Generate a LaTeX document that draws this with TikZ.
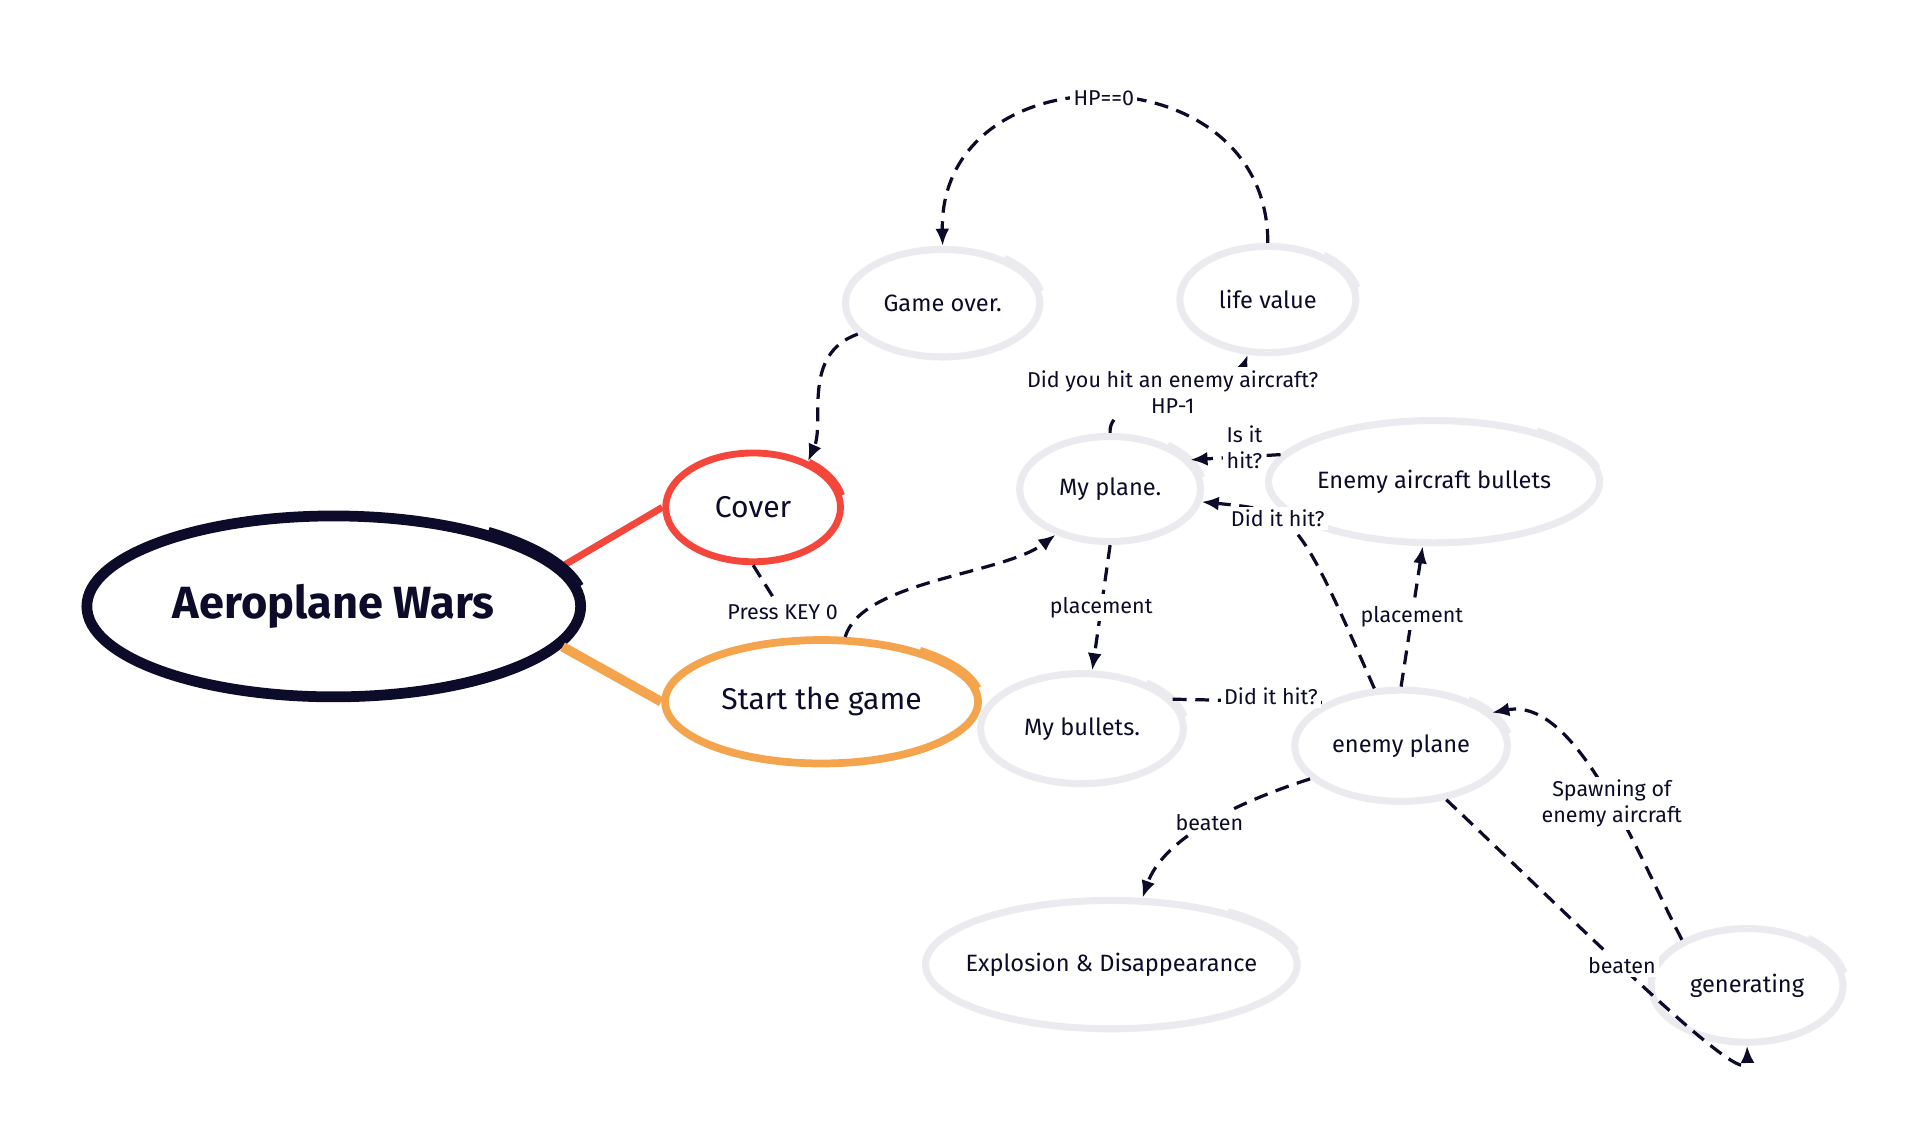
\documentclass[tikz,border=0pt]{standalone}
\usepackage{fontspec}
\setmainfont{Fira Sans}
\usepackage{tikz}
\usetikzlibrary{shapes.geometric,arrows.meta,positioning}
\usepackage{xcolor}
\definecolor{inknavy}{RGB}{12,12,42}
\definecolor{coverred}{RGB}{245,70,60}
\definecolor{startorange}{RGB}{245,164,78}
\definecolor{bubblegrey}{RGB}{235,234,238}

\tikzset{
  bubble/.style={ellipse, draw=bubblegrey, line width=3.3pt, inner sep=0pt, text=inknavy, font=\fontsize{11}{13}\selectfont},
  link/.style={draw=inknavy, line width=1.5pt, dash pattern=on 6.5pt off 4pt},
  linkto/.style={link, -{Latex[length=8pt,width=6.5pt]}},
  lbl/.style={fill=white, inner sep=1.5pt, text=inknavy, align=center, font=\fontsize{10}{12}\selectfont}
}

\begin{document}
\begin{tikzpicture}[x=0.02cm,y=0.02cm]
\useasboundingbox (0,0) rectangle (1568,-928);

% Central topic
\node[ellipse, draw=inknavy, line width=5pt, inner sep=0pt, minimum width=8.08cm, minimum height=2.96cm, text=inknavy, font=\fontsize{21}{25}\selectfont\bfseries] (wars) at (273,-496) {Aeroplane Wars};

% Main branches
\node[ellipse, draw=coverred, line width=3.2pt, inner sep=0pt, minimum width=2.86cm, minimum height=1.78cm, text=inknavy, font=\fontsize{14}{16}\selectfont] (cover) at (616,-415) {Cover};
\node[ellipse, draw=startorange, line width=3.6pt, inner sep=0pt, minimum width=5.12cm, minimum height=2.02cm, text=inknavy, font=\fontsize{14}{16}\selectfont] (start) at (672,-574) {Start the game};

\draw[coverred, line width=3.2pt] (wars.10) -- (cover.west);
\draw[startorange, line width=4.5pt] (wars.-10) -- (start.west);

% Game states
\node[bubble, minimum width=3.18cm, minimum height=1.76cm] (over) at (771,-248) {Game over.};
\node[bubble, minimum width=2.88cm, minimum height=1.74cm] (life) at (1037,-245) {life value};
\node[bubble, minimum width=2.96cm, minimum height=1.72cm] (myplane) at (908,-400) {My plane.};
\node[bubble, minimum width=5.36cm, minimum height=2.0cm] (ebullets) at (1173,-394) {Enemy aircraft bullets};
\node[bubble, minimum width=3.32cm, minimum height=1.8cm] (mybullets) at (885,-596) {My bullets.};
\node[bubble, minimum width=3.48cm, minimum height=1.82cm] (enemy) at (1146,-610) {enemy plane};
\node[bubble, inner xsep=-0.25cm, minimum width=6.08cm, minimum height=2.1cm] (boom) at (909,-789) {Explosion \& Disappearance};
\node[bubble, minimum width=3.14cm, minimum height=1.86cm] (gen) at (1429,-806) {generating};

% Brush overlap at the top right of each bubble
\foreach \n/\a/\b/\c/\w in {wars/4.1/1.54/inknavy/5pt, cover/1.48/0.94/coverred/3.2pt, start/2.61/1.06/startorange/3.6pt,
    over/1.64/0.93/bubblegrey/3.3pt, life/1.49/0.92/bubblegrey/3.3pt, myplane/1.53/0.91/bubblegrey/3.3pt,
    ebullets/2.73/1.05/bubblegrey/3.3pt, mybullets/1.71/0.95/bubblegrey/3.3pt, enemy/1.79/0.96/bubblegrey/3.3pt,
    boom/3.09/1.1/bubblegrey/3.3pt, gen/1.62/0.98/bubblegrey/3.3pt}
  \draw[\c, line width=\w] (\n.center) ++(52:\a cm and \b cm) arc[start angle=52, end angle=12, x radius=\a cm, y radius=\b cm];

% Flow
\draw[linkto] (life.north) .. controls (1037,-40) and (768,-40) .. (over.north) node[lbl, pos=0.5] {HP==0};
\draw[linkto] (over.200) .. controls (655,-290) and (675,-345) .. (cover.40);
\draw[link, shorten >=0.45cm] (cover.south) -- (start.110) node[lbl, pos=0.66] {Press KEY 0};
\draw[linkto] (start.70) .. controls (705,-475) and (820,-470) .. (myplane.220);
\draw[linkto] (myplane.north) .. controls (905,-320) and (1010,-320) .. (life.250) node[lbl, pos=0.5] {Did you hit an enemy aircraft?\\HP-1};
\draw[linkto] (ebullets.170) -- (myplane.20) node[lbl, pos=0.4, yshift=0.15cm] {Is it\\hit?};
\draw[linkto] (enemy.115) .. controls (1060,-418) .. (myplane.352) node[lbl, pos=0.62] {Did it hit?};
\draw[linkto] (myplane.south) -- (mybullets.80) node[lbl, pos=0.5] {placement};
\draw[link] (mybullets.18) -- (enemy.150) node[lbl, pos=0.64, yshift=0.08cm] {Did it hit?};
\draw[linkto] (enemy.north) -- (ebullets.260) node[lbl, pos=0.5] {placement};
\draw[linkto] (enemy.200) .. controls (1000,-660) and (950,-690) .. (boom.65) node[lbl, pos=0.45] {beaten};
\draw[linkto] (enemy.310) .. controls (1300,-765) and (1430,-895) .. (gen.south) node[lbl, pos=0.42] {beaten};
\draw[linkto] (gen.145) .. controls (1340,-700) and (1290,-570) .. (enemy.20) node[lbl, pos=0.45] {Spawning of\\enemy aircraft};
\end{tikzpicture}
\end{document}
